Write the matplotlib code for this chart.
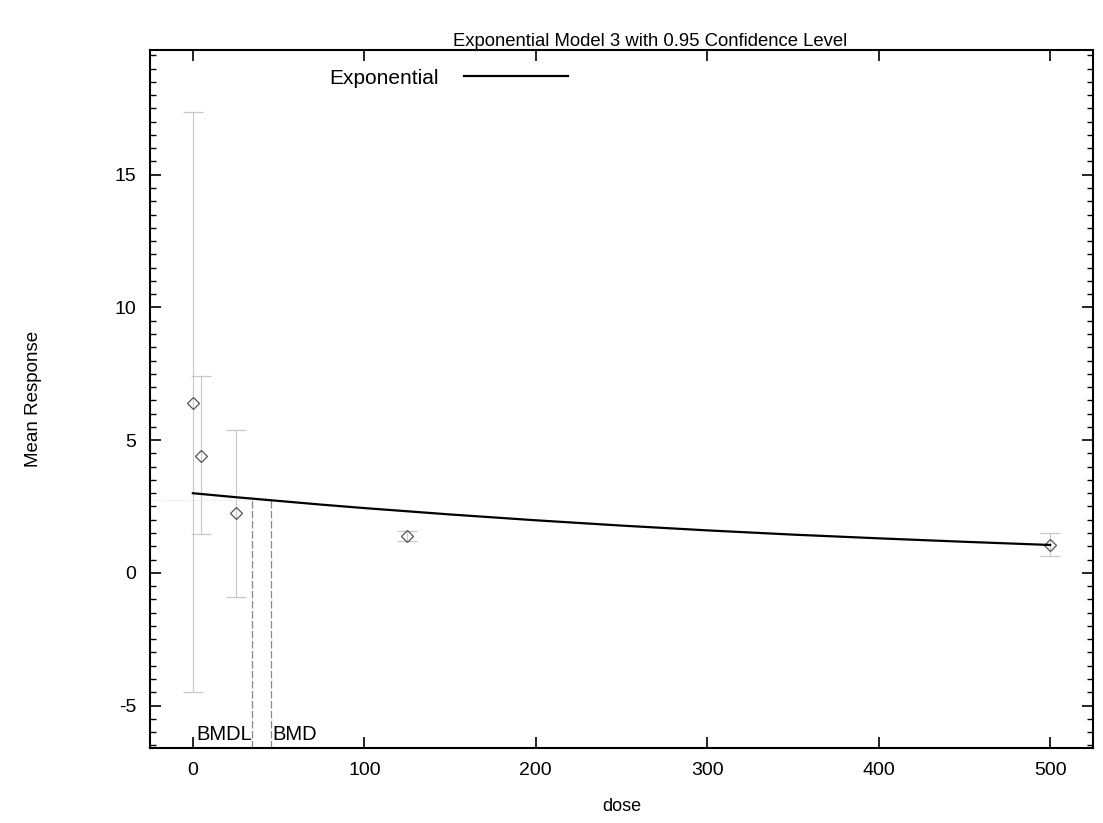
import matplotlib
matplotlib.use("Agg")
import matplotlib.pyplot as plt
from matplotlib.ticker import MultipleLocator

plt.rcParams['font.family'] = ['Liberation Sans', 'DejaVu Sans']
plt.rcParams['axes.unicode_minus'] = False

# observed data
dose = [0, 5, 25, 125, 500]
mean_resp = [6.4, 4.4, 2.25, 1.38, 1.05]
ci_low = [-4.5, 1.45, -0.9, 1.2, 0.62]
ci_high = [17.35, 7.4, 5.4, 1.58, 1.5]

# fitted exponential curve
fit_dose = [0, 25, 50, 75, 100, 150, 200, 250, 300, 350, 400, 450, 500]
fit_resp = [3.0, 2.85, 2.71, 2.57, 2.44, 2.2, 1.98, 1.78, 1.6, 1.44, 1.3, 1.17, 1.05]

bmdl = 34.5
bmd = 45.3
bmr_level = 2.74

title = "Exponential Model 3 with 0.95 Confidence Level"

fig = plt.figure(figsize=(11.03, 8.23), dpi=100)
ax = fig.add_axes([150/1103, 1-748/823, (1093-150)/1103, (748-50)/823])

# fitted line
ax.plot(fit_dose, fit_resp, color='black', lw=1.6, label='Exponential', zorder=3)

# error bars
err_lo = [m - l for m, l in zip(mean_resp, ci_low)]
err_hi = [h - m for m, h in zip(mean_resp, ci_high)]
ax.errorbar(dose, mean_resp, yerr=[err_lo, err_hi], fmt='D', ms=6,
            mfc='none', mec='#555555', mew=0.9, ecolor='#c8c8c8',
            elinewidth=0.8, capsize=7, capthick=1.0, zorder=2)

# BMD / BMDL markers
ax.plot([bmdl, bmdl], [-6.6, bmr_level], color='#888888', lw=0.9, ls=(0, (6, 2)))
ax.plot([bmd, bmd], [-6.6, bmr_level], color='#888888', lw=0.9, ls=(0, (6, 2)))
ax.plot([-25, bmd], [bmr_level, bmr_level], color='#dddddd', lw=0.8, ls=':')
ax.text(bmdl, -6.45, 'BMDL', ha='right', va='bottom', fontsize=14.5)
ax.text(bmd + 1, -6.45, 'BMD', ha='left', va='bottom', fontsize=14.5)

ax.set_xlim(-25, 525)
ax.set_ylim(-6.6, 19.7)
ax.xaxis.set_major_locator(MultipleLocator(100))
ax.yaxis.set_major_locator(MultipleLocator(5))
ax.yaxis.set_minor_locator(MultipleLocator(0.5))
ax.tick_params(axis='both', which='major', direction='in', length=8, width=1.2,
               top=True, right=True, labelsize=14, pad=10)
ax.tick_params(axis='y', which='minor', direction='in', length=4, width=1.0,
               left=True, right=True)
for s in ax.spines.values():
    s.set_linewidth(1.5)

ax.set_xlabel('dose', fontsize=13, labelpad=14)
ax.set_ylabel('Mean Response', fontsize=13.5, labelpad=52)

fig.text(650/1103, 1-42/823, title, ha='center', va='center', fontsize=13.3)

leg = ax.legend(loc='upper left', bbox_to_anchor=(0.17, 1.0), frameon=False,
                markerfirst=False, fontsize=15, handlelength=5.0, handletextpad=1.2)

fig.savefig('out.png', dpi=100)
